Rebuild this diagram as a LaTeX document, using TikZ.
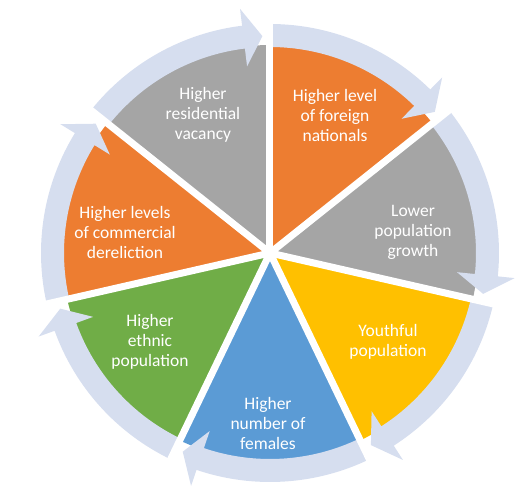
\documentclass[tikz,border=0pt]{standalone}
\usepackage{fontspec}
\setmainfont{Carlito}
\usepackage{xcolor}
\usetikzlibrary{calc}
\definecolor{segorange}{HTML}{ED7D31}
\definecolor{seggray}{HTML}{A5A5A5}
\definecolor{segyellow}{HTML}{FFC000}
\definecolor{segblue}{HTML}{5B9BD5}
\definecolor{seggreen}{HTML}{70AD47}
\definecolor{ringblue}{HTML}{D6DEEF}
\tikzstyle{segtext} = [text=white, align=center, font=\fontsize{17.5}{20}\selectfont]
\tikzstyle{ringarrow} = [fill=ringblue, draw=none]
\tikzstyle{gapline} = [white, line width=7pt]

\begin{document}
\begin{tikzpicture}[x=1pt, y=1pt]
  \useasboundingbox (-270,-235) rectangle (252,253);

  % pie segments, clockwise from the top
  \foreach \col [count=\i] in {segorange, seggray, segyellow, segblue, seggreen, segorange, seggray} {
    \pgfmathsetmacro{\a}{90-(\i-1)*360/7}
    \pgfmathsetmacro{\b}{90-\i*360/7}
    \fill[\col] (0,0) -- (\a:208) arc[start angle=\a, end angle=\b, radius=208] -- cycle;
  }

  % arrows round the ring
  \foreach \i in {1,...,7} {
    \pgfmathsetmacro{\a}{90-(\i-1)*360/7}
    \pgfmathsetmacro{\h}{90-\i*360/7+7}
    \pgfmathsetmacro{\t}{90-\i*360/7+2}
    \fill[ringarrow] (\a:229) arc[start angle=\a, end angle=\h, radius=229]
      -- (\h:246) -- (\t:217) -- (\h:188) -- (\h:206)
      arc[start angle=\h, end angle=\a, radius=206] -- cycle;
  }

  % white gaps
  \foreach \i in {0,...,6}
    \draw[gapline] (0,0) -- (90-\i*360/7:250);

  \node[segtext] (foreign) at (65,138) {Higher level\\of foreign\\nationals};
  \node[segtext] (growth) at (143,21) {Lower\\population\\growth};
  \node[segtext] (youthful) at (118,-89) {Youthful\\population};
  \node[segtext] (females) at (-2,-170) {Higher\\number of\\females};
  \node[segtext] (ethnic) at (-120,-89) {Higher\\ethnic\\population};
  \node[segtext] (dereliction) at (-145,21) {Higher levels\\of commercial\\dereliction};
  \node[segtext] (vacancy) at (-67,138) {Higher\\residential\\vacancy};

\end{tikzpicture}
\end{document}
